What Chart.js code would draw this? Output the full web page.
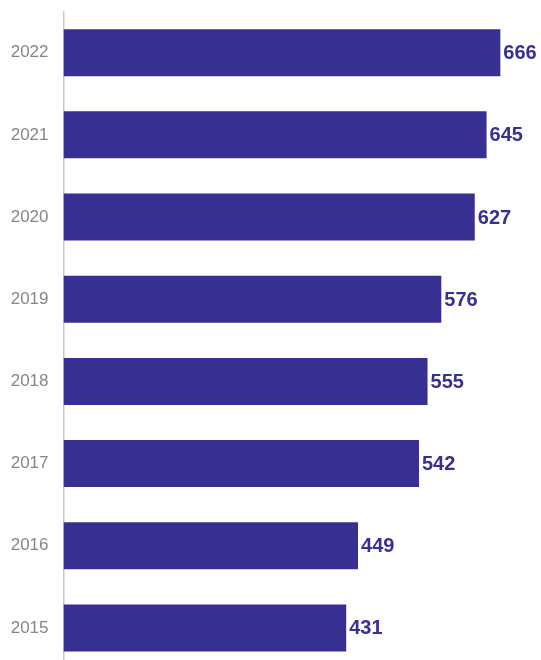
<!DOCTYPE html>
<html>
<head>
<meta charset="utf-8">
<script src="https://cdn.jsdelivr.net/npm/chart.js@4"></script>
<style>
  html, body { margin: 0; padding: 0; background: #fff; overflow: hidden; }
  #wrap { width: 541px; height: 669px; position: relative; }
</style>
</head>
<body>
<div id="wrap"><canvas id="chart"></canvas></div>
<script>
// Anni e valori (dall'alto verso il basso)
const anni = ['2022', '2021', '2020', '2019', '2018', '2017', '2016', '2015'];
const valori = [666, 645, 627, 576, 555, 542, 449, 431];

const coloreBarre = '#382f92';

// Etichette dei valori a destra delle barre
const etichetteValori = {
  id: 'etichetteValori',
  afterDatasetsDraw(chart) {
    const ctx = chart.ctx;
    const meta = chart.getDatasetMeta(0);
    ctx.save();
    ctx.font = 'bold 20px "Liberation Sans", Arial, sans-serif';
    ctx.fillStyle = coloreBarre;
    ctx.textAlign = 'left';
    ctx.textBaseline = 'middle';
    meta.data.forEach((bar, i) => {
      ctx.fillText(String(valori[i]), bar.x + 3, bar.y + 1);
    });
    ctx.restore();
  }
};

new Chart(document.getElementById('chart'), {
  type: 'bar',
  data: {
    labels: anni,
    datasets: [{
      data: valori,
      backgroundColor: coloreBarre,
      borderWidth: 0,
      categoryPercentage: 1,
      barPercentage: 0.572
    }]
  },
  options: {
    indexAxis: 'y',
    responsive: true,
    maintainAspectRatio: false,
    animation: false,
    layout: { padding: { top: 11.6, right: 0, bottom: 0, left: 0 } },
    plugins: {
      legend: { display: false },
      tooltip: { enabled: false }
    },
    scales: {
      x: {
        display: false,
        min: 0,
        max: 728
      },
      y: {
        grid: { display: false, drawTicks: false },
        border: { display: true, color: '#c8c8c8', width: 1.5 },
        ticks: {
          color: '#868686',
          padding: 15,
          font: { family: '"Liberation Sans", Arial, sans-serif', size: 17 }
        },
        afterFit(scale) {
          scale.width = 63.5;
          scale.paddingTop = 0;
          scale.paddingBottom = 0;
        }
      }
    }
  },
  plugins: [etichetteValori]
});
</script>
</body>
</html>
